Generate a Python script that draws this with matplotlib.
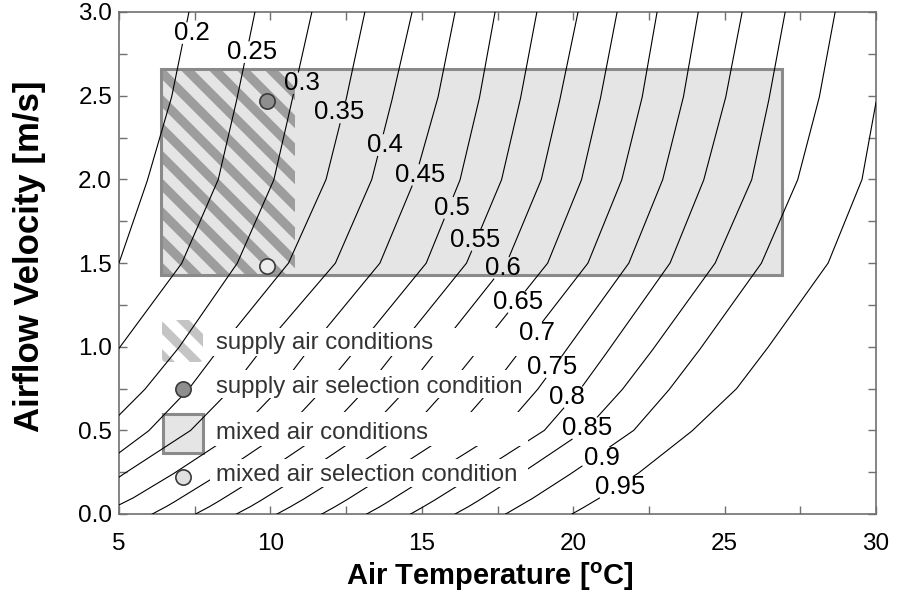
import numpy as np
import matplotlib
matplotlib.use("Agg")
import matplotlib.pyplot as plt
from matplotlib.patches import Rectangle, Polygon, FancyBboxPatch
from matplotlib.lines import Line2D
from matplotlib.ticker import MultipleLocator, FuncFormatter
from matplotlib.transforms import IdentityTransform

plt.rcParams['font.family'] = ['Liberation Sans', 'DejaVu Sans']
plt.rcParams['mathtext.fontset'] = 'custom'
plt.rcParams['mathtext.rm'] = 'Liberation Sans'
plt.rcParams['mathtext.bf'] = 'Liberation Sans:bold'

nan = np.nan

levels = [0.2, 0.25, 0.3, 0.35, 0.4, 0.45, 0.5, 0.55, 0.6, 0.65, 0.7, 0.75, 0.8, 0.85, 0.9, 0.95]
v_read = [3.0, 2.5, 2.0, 1.5, 1.0, 0.75, 0.5, 0.25, 0.1, 0.05, 0.0]

t_020 = [7.31, 6.75, 5.95, nan, nan, nan, nan, nan, nan, nan, nan]
t_025 = [9.49, 8.92, 8.28, 7.08, nan, nan, nan, nan, nan, nan, nan]
t_030 = [11.37, 10.75, 10.12, 8.91, 7.00, 5.88, nan, nan, nan, nan, nan]
t_035 = [13.12, 12.53, 11.84, 10.60, 8.36, 7.32, 6.00, nan, nan, nan, nan]
t_040 = [14.68, 14.05, 13.35, 12.15, 9.78, 8.72, 7.37, 5.24, nan, nan, nan]
t_045 = [16.10, 15.55, 14.77, 13.62, 11.34, 10.30, 8.98, 6.88, 5.51, nan, nan]
t_050 = [17.42, 16.92, 16.27, 15.15, 12.90, 11.76, 10.47, 8.42, 7.08, 6.62, 6.10]
t_055 = [18.80, 18.28, 17.64, 16.48, 14.25, 13.17, 11.88, 9.84, 8.51, 8.05, 7.53]
t_060 = [20.16, 19.59, 18.95, 17.80, 15.60, 14.52, 13.23, 11.19, 9.86, 9.40, 8.88]
t_065 = [21.45, 20.92, 20.28, 19.16, 16.95, 15.84, 14.60, 12.52, 11.20, 10.73, 10.22]
t_070 = [22.77, 22.29, 21.61, 20.49, 18.35, 17.30, 16.10, 13.97, 12.66, 12.20, 11.70]
t_075 = [24.13, 23.65, 22.96, 21.84, 19.85, 18.85, 17.65, 15.45, 14.13, 13.68, 13.18]
t_080 = [25.58, 25.05, 24.32, 23.20, 21.25, 20.25, 19.05, 16.90, 15.58, 15.12, 14.63]
t_085 = [27.00, 26.49, 25.90, 24.69, 22.70, 21.65, 20.40, 18.35, 17.05, 16.60, 16.10]
t_090 = [28.65, 28.14, 27.42, 26.22, 24.25, 23.20, 22.00, 20.00, 18.72, 18.25, 17.77]
t_095 = [nan, nan, 29.54, 28.42, 26.45, 25.40, 23.95, 22.20, 20.91, 20.45, 19.96]
t_lines = [t_020, t_025, t_030, t_035, t_040, t_045, t_050, t_055,
           t_060, t_065, t_070, t_075, t_080, t_085, t_090, t_095]

# velocities where lines leave through the left edge (5 degC), levels 0.2 .. 0.45
left_exit_v = [1.50, 0.99, 0.59, 0.365, 0.22, 0.054]
# velocity where the 0.95 line leaves through the right edge (30 degC)
right_exit_v = 2.46

# mixed / supply air ranges and selection points
mixed_T = [6.4, 26.9]
mixed_v = [1.43, 2.66]
supply_T = [6.4, 10.8]
supply_sel = (9.9, 2.47)
mixed_sel = (9.9, 1.48)

legend_labels = ['supply air conditions', 'supply air selection condition',
                 'mixed air conditions', 'mixed air selection condition']

# where the inline contour labels sit
label_T = [7.40, 9.39, 11.04, 12.27, 13.78, 14.94, 16.0, 16.76,
           17.68, 18.18, 18.81, 19.30, 19.80, 20.46, 20.95, 21.54]
label_v = [2.875, 2.76, 2.575, 2.40, 2.205, 2.026, 1.829, 1.638,
           1.470, 1.267, 1.082, 0.878, 0.699, 0.514, 0.335, 0.161]

W, H = 898, 598
fig = plt.figure(figsize=(W / 100, H / 100), dpi=100)
ax = fig.add_axes([119 / W, (H - 514) / H, 757 / W, 502 / H])
ax.set_xlim(5, 30)
ax.set_ylim(0, 3)
pix = IdentityTransform()


def stripes(x0, y0, x1, y1, period, width, color, clip, z):
    # diagonal bands running from upper left to lower right, display pixels
    c = x0 + y0 - period
    while c < x1 + y1 + period:
        xa, xb = x0 - 60, x1 + 60
        p = Polygon([(xa, c - xa), (xb, c - xb), (xb, c + width - xb), (xa, c + width - xa)],
                    closed=True, transform=pix, fc=color, ec='none', zorder=z)
        ax.add_patch(p)
        p.set_clip_path(clip)
        c += period


# mixed air box
ax.add_patch(Rectangle((mixed_T[0], mixed_v[0]), mixed_T[1] - mixed_T[0], mixed_v[1] - mixed_v[0],
                       fc='#e5e5e5', ec='none', zorder=1))
clip_supply = Rectangle((supply_T[0], mixed_v[0]), supply_T[1] - supply_T[0], mixed_v[1] - mixed_v[0],
                        transform=ax.transData)
(sx0, sy0), (sx1, sy1) = ax.transData.transform([(supply_T[0], mixed_v[0]), (supply_T[1], mixed_v[1])])
stripes(sx0, sy0, sx1, sy1, 28, 13, '#9d9d9d', clip_supply, 1.2)
ax.add_patch(Rectangle((mixed_T[0], mixed_v[0]), mixed_T[1] - mixed_T[0], mixed_v[1] - mixed_v[0],
                       fill=False, ec='#8a8a8a', lw=2.2, zorder=2))

# contour labels first, so the lines can be broken around them
fig.canvas.draw()
rend = fig.canvas.get_renderer()
label_boxes = []
for lev, T, v in zip(levels, label_T, label_v):
    t = ax.text(T, v, f'{lev:g}', ha='center', va='center', fontsize=18.5, color='black', zorder=6)
    label_boxes.append(t.get_window_extent(rend))

for i, (lev, tl) in enumerate(zip(levels, t_lines)):
    T = [t for t in tl if not np.isnan(t)]
    v = [vv for t, vv in zip(tl, v_read) if not np.isnan(t)]
    if i < len(left_exit_v):
        T.append(5.0)
        v.append(left_exit_v[i])
    if lev == 0.95:
        T.insert(0, 30.0)
        v.insert(0, right_exit_v)
    d = ax.transData.transform(np.column_stack([T, v]))
    s = np.concatenate([[0], np.cumsum(np.hypot(*np.diff(d, axis=0).T))])
    sf = np.arange(0, s[-1] + 0.5, 0.5)
    xs = np.interp(sf, s, d[:, 0])
    ys = np.interp(sf, s, d[:, 1])
    bb = label_boxes[i]
    inside = (xs > bb.x0 - 2) & (xs < bb.x1 + 2) & (ys > bb.y0 + 1) & (ys < bb.y1 - 1)
    xs[inside] = np.nan
    ys[inside] = np.nan
    dd = ax.transData.inverted().transform(np.column_stack([xs, ys]))
    ax.plot(dd[:, 0], dd[:, 1], color='black', lw=0.8, zorder=3)

# selection points
ax.plot(*supply_sel, 'o', ms=11, mfc='#8e8e8e', mec='#3a3a3a', mew=1.2, zorder=7)
ax.plot(*mixed_sel, 'o', ms=11, mfc='#ececec', mec='#3a3a3a', mew=1.2, zorder=7)

# legend drawn by hand (white row bands hide the contour lines behind the text)
for top, bot in [(328, 356), (370, 398), (412, 446), (459, 487)]:
    ax.add_patch(Rectangle((210, H - bot), 318, bot - top, transform=pix,
                           fc='white', ec='none', zorder=4))

hbox = FancyBboxPatch((162, H - 362), 41, 42, boxstyle='round,pad=0,rounding_size=4',
                      transform=pix, fc='white', ec='none', zorder=2)
ax.add_patch(hbox)
stripes(162, H - 362, 203, H - 320, 28, 13, '#c4c4c4', hbox, 2.1)
ax.add_patch(Rectangle((163, H - 453), 40, 39, transform=pix, fc='#e5e5e5', ec='#8a8a8a',
                       lw=2.2, zorder=2))
ax.add_artist(Line2D([183], [H - 389], marker='o', ms=11, mfc='#8e8e8e', mec='#3a3a3a',
                     mew=1.2, transform=pix, zorder=7))
ax.add_artist(Line2D([183], [H - 477], marker='o', ms=11, mfc='#e0e0e0', mec='#3a3a3a',
                     mew=1.2, transform=pix, zorder=7))
for lab, base in zip(legend_labels, [349.5, 393, 439, 481]):
    ax.text(216, H - base, lab, transform=pix, ha='left', va='baseline',
            fontsize=17.3, color='#333333', zorder=5)

# axes styling
ax.xaxis.set_major_locator(MultipleLocator(5))
ax.xaxis.set_minor_locator(MultipleLocator(2.5))
ax.yaxis.set_major_locator(MultipleLocator(0.5))
ax.yaxis.set_minor_locator(MultipleLocator(0.25))
ax.xaxis.set_major_formatter(FuncFormatter(lambda x, p: f'{x:.0f}'))
ax.yaxis.set_major_formatter(FuncFormatter(lambda y, p: f'{y:.1f}'))
ax.tick_params(which='both', direction='in', top=True, right=True, length=6,
               width=1, color='#707070')
ax.tick_params(axis='both', labelsize=17.5)
ax.tick_params(axis='x', pad=14)
ax.tick_params(axis='y', pad=5)
for sp in ax.spines.values():
    sp.set_color('#707070')
    sp.set_linewidth(1.2)

fig.text(490 / W, (H - 577) / H, r'Air Temperature [$^{\mathbf{o}}$C]', ha='center', va='center',
         fontsize=21, fontweight='bold')
fig.text(30 / W, (H - 256) / H, 'Airflow Velocity [m/s]', ha='center', va='center',
         rotation=90, fontsize=25, fontweight='bold')

fig.savefig('out.png', dpi=100)
